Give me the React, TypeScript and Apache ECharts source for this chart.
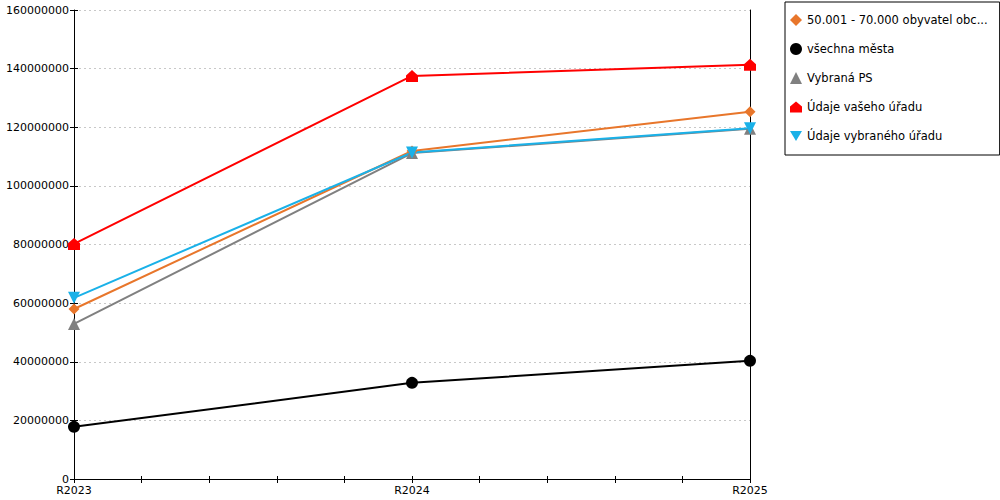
import { useEffect, useRef } from "react";
import * as echarts from "echarts";

const categories = ["R2023", "R2024", "R2025"];

const seriesNames = [
    "50.001 - 70.000 obyvatel obce s rozšířenou působností",
    "všechna města",
    "Vybraná PS",
    "Údaje vašeho úřadu",
    "Údaje vybraného úřadu",
];

const orangeValues = [58000000, 111900000, 125300000];
const blackValues = [17800000, 32800000, 40300000];
const grayValues = [52900000, 111200000, 119500000];
const redValues = [80200000, 137500000, 141300000];
const blueValues = [61800000, 111400000, 119700000];

const colors = ["#e8762b", "#000000", "#808080", "#ff0000", "#1ab1e8"];

const houseSymbol = "path://M0,0 L6,-5 L12,0 L12,6 L0,6 Z";
const downTriangle = "path://M0,0 L12,0 L6,10 Z";
const symbols = ["diamond", "circle", "triangle", houseSymbol, downTriangle];

const font = "DejaVu Sans, Verdana, sans-serif";

const App = () => {
    const chartRef = useRef<HTMLDivElement>(null);

    useEffect(() => {
        if (!chartRef.current) return;
        const chart = echarts.init(chartRef.current, undefined, { renderer: "svg" });

        const allValues = [orangeValues, blackValues, grayValues, redValues, blueValues];

        const series = allValues.map((values, i) => ({
            name: seriesNames[i],
            type: "line" as const,
            data: values,
            symbol: symbols[i],
            symbolSize: i === 0 ? 11 : 12,
            showAllSymbol: true,
            lineStyle: { color: colors[i], width: 2 },
            itemStyle: { color: colors[i] },
            xAxisIndex: 0,
            yAxisIndex: 0,
        }));

        const sub = { min: 0, max: 10, interval: 1 };

        chart.setOption({
            animation: false,
            textStyle: { fontFamily: font },
            grid: { left: 74, right: 250, top: 10, bottom: 21, containLabel: false },
            legend: {
                orient: "vertical",
                left: 785,
                top: 2,
                width: 214,
                padding: [12, 12, 13, 5],
                itemGap: 17,
                itemWidth: 12,
                itemHeight: 12,
                borderColor: "#000",
                borderWidth: 1,
                textStyle: {
                    fontFamily: font,
                    fontSize: 11.5,
                    color: "#000",
                    width: 186,
                    overflow: "truncate",
                    ellipsis: "...",
                },
                data: seriesNames.map((n, i) => ({ name: n, icon: symbols[i] })),
            },
            xAxis: [
                {
                    type: "category",
                    data: categories,
                    boundaryGap: false,
                    axisLine: { lineStyle: { color: "#000", width: 1 } },
                    axisTick: { show: false },
                    axisLabel: { color: "#000", fontSize: 11, margin: 6, fontFamily: font },
                    splitLine: { show: false },
                },
                {
                    type: "value",
                    ...sub,
                    position: "bottom",
                    axisLine: { show: false },
                    axisTick: { show: true, length: 4, lineStyle: { color: "#000" } },
                    axisLabel: { show: false },
                    splitLine: { show: false },
                },
                {
                    type: "value",
                    ...sub,
                    position: "bottom",
                    axisLine: { show: false },
                    axisTick: { show: true, inside: true, length: 3, lineStyle: { color: "#000" } },
                    axisLabel: { show: false },
                    splitLine: { show: false },
                },
            ],
            yAxis: [
                {
                    type: "value",
                    min: 0,
                    max: 160000000,
                    interval: 20000000,
                    axisLine: { show: true, lineStyle: { color: "#000", width: 1 } },
                    axisTick: { show: true, length: 4, lineStyle: { color: "#000" } },
                    axisLabel: {
                        color: "#000",
                        fontSize: 11,
                        margin: 5,
                        fontFamily: font,
                        formatter: (v: number) => String(v),
                    },
                    splitLine: {
                        show: true,
                        lineStyle: { color: "#c8c8c8", type: [2, 3], width: 1 },
                    },
                },
                {
                    type: "value",
                    min: 0,
                    max: 160000000,
                    interval: 20000000,
                    position: "left",
                    axisLine: { show: false },
                    axisTick: { show: true, inside: true, length: 4, lineStyle: { color: "#000" } },
                    axisLabel: { show: false },
                    splitLine: { show: false },
                },
                {
                    type: "value",
                    min: 0,
                    max: 160000000,
                    interval: 20000000,
                    position: "right",
                    axisLine: { show: true, lineStyle: { color: "#000", width: 1 } },
                    axisTick: { show: false },
                    axisLabel: { show: false },
                    splitLine: { show: false },
                },
            ],
            series,
        });

        return () => {
            chart.dispose();
        };
    }, []);

    return (
        <div
            ref={chartRef}
            style={{ width: "1000px", height: "500px", position: "absolute", left: 0, top: 0 }}
        />
    );
};

export default App;
